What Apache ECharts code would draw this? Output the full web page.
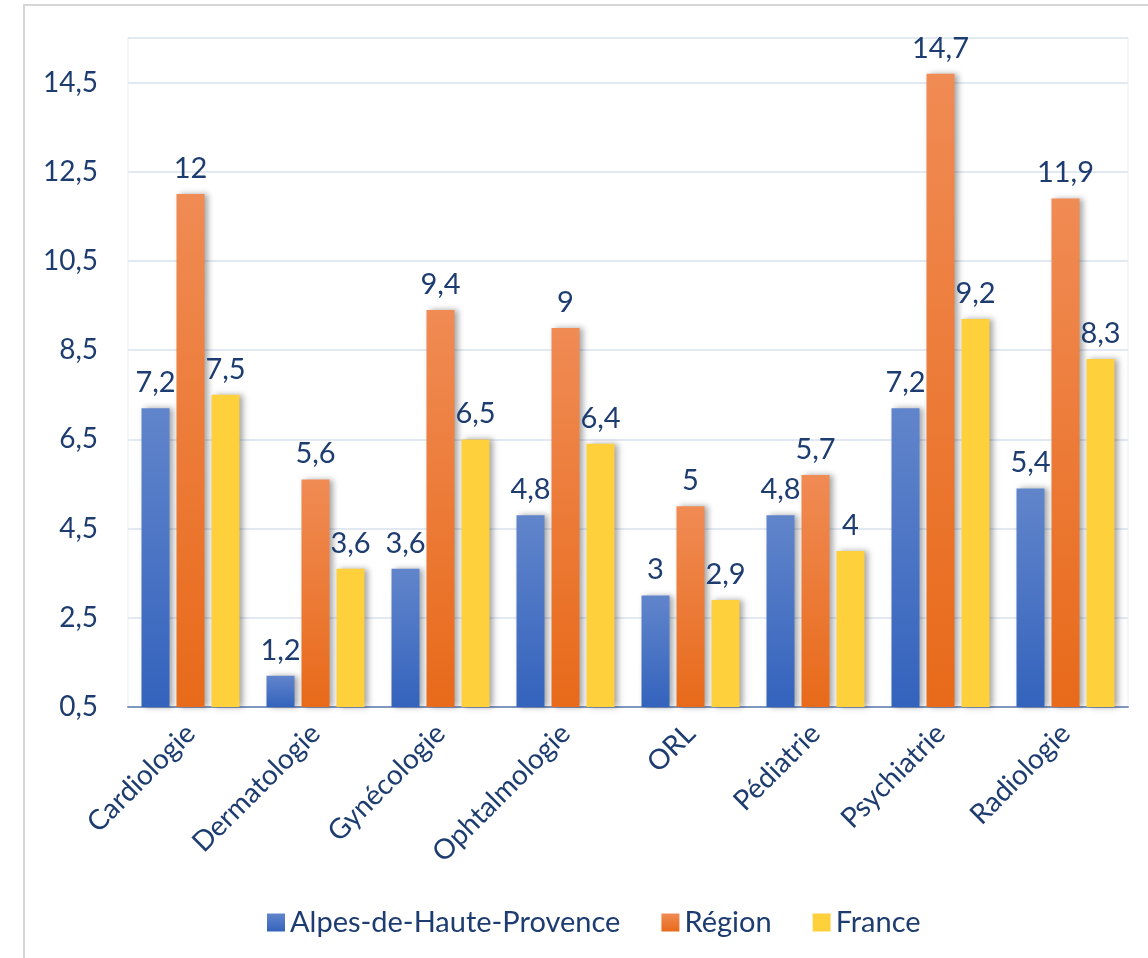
<!DOCTYPE html>
<html>
  <head>
    <meta charset="utf-8" />
    <script src="https://cdn.jsdelivr.net/npm/echarts@6/dist/echarts.min.js"></script>
    <title></title>
    <style type="text/css">
      html, body { margin: 0; padding: 0; background: #fff; }
      #demo { width: 1148px; height: 958px; }
    </style>
  </head>
  <body>
    <div id="demo"></div>
    <script type="text/javascript">
      // données
      var categories = ['Cardiologie', 'Dermatologie', 'Gynécologie', 'Ophtalmologie', 'ORL', 'Pédiatrie', 'Psychiatrie', 'Radiologie']
      var alpes = [7.2, 1.2, 3.6, 4.8, 3, 4.8, 7.2, 5.4]
      var region = [12, 5.6, 9.4, 9, 5, 5.7, 14.7, 11.9]
      var france = [7.5, 3.6, 6.5, 6.4, 2.9, 4, 9.2, 8.3]
      var seriesNames = ['Alpes-de-Haute-Provence', 'Région', 'France']

      var textColor = '#1d3c70'
      var font = 'Lato, "Open Sans", sans-serif'

      function grad(top, bottom) {
        return new echarts.graphic.LinearGradient(0, 0, 0, 1, [
          { offset: 0, color: top },
          { offset: 1, color: bottom }
        ])
      }

      function makeSeries(name, data, color) {
        return {
          name: name,
          type: 'bar',
          data: data,
          barWidth: 28,
          barGap: '25%',
          itemStyle: {
            color: color,
            shadowBlur: 6,
            shadowOffsetX: 3,
            shadowOffsetY: 0,
            shadowColor: 'rgba(0,0,0,0.35)'
          },
          label: {
            show: true,
            position: 'top',
            distance: 11,
            color: textColor,
            fontFamily: font,
            fontSize: 29,
            formatter: function (p) {
              return String(p.value).replace('.', ',')
            }
          }
        }
      }

      var chart = echarts.init(document.getElementById('demo'))
      var option = {
        animation: false,
        backgroundColor: '#ffffff',
        graphic: [
          {
            type: 'rect',
            shape: { x: 24, y: 5, width: 1140, height: 1000 },
            style: { fill: 'none', stroke: '#d6d6d6', lineWidth: 2 },
            silent: true
          }
        ],
        grid: {
          left: 128,
          right: 20,
          top: 38,
          bottom: 251,
          show: true,
          borderColor: '#e8edf5',
          borderWidth: 1
        },
        legend: {
          left: 262,
          top: 903,
          itemWidth: 18,
          itemHeight: 18,
          itemGap: 41,
          icon: 'rect',
          textStyle: { color: textColor, fontFamily: font, fontSize: 29 },
          data: seriesNames
        },
        xAxis: {
          type: 'category',
          data: categories,
          axisTick: { show: false },
          axisLine: { lineStyle: { color: '#7f98c0', width: 2 } },
          axisLabel: {
            interval: 0,
            rotate: 45,
            margin: 22,
            color: textColor,
            fontFamily: font,
            fontSize: 28
          }
        },
        yAxis: {
          type: 'value',
          min: 0.5,
          max: 15.5,
          interval: 2,
          axisLine: { show: false },
          axisTick: { show: false },
          splitLine: { lineStyle: { color: '#e3e9f3', width: 2 } },
          axisLabel: {
            margin: 30,
            color: textColor,
            fontFamily: font,
            fontSize: 28,
            showMaxLabel: false,
            formatter: function (v) {
              if (v > 15) return ''
              return v.toFixed(1).replace('.', ',')
            }
          }
        },
        series: [
          makeSeries(seriesNames[0], alpes, grad('#6185cb', '#3463bd')),
          makeSeries(seriesNames[1], region, grad('#f08b54', '#e86a1a')),
          makeSeries(seriesNames[2], france, '#fed03c')
        ]
      }
      chart.setOption(option)
    </script>
  </body>
</html>
